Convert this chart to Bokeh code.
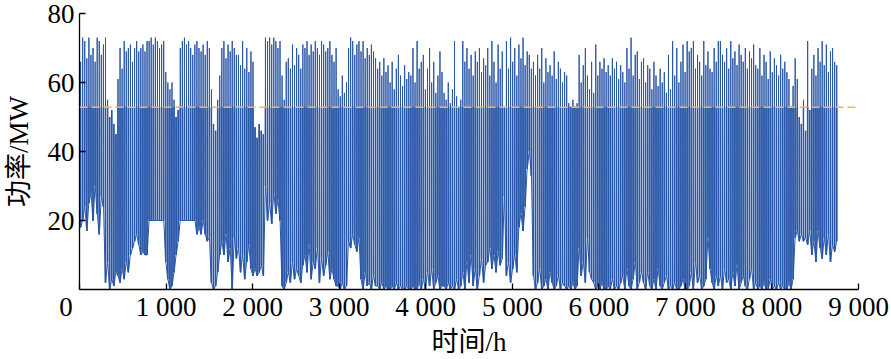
from bokeh.plotting import figure
from bokeh.models import Range1d, FixedTicker, Span
from bokeh.embed import file_html
from bokeh.resources import INLINE

# Daily peak and trough power (MW), day by day (365 days)
PEAK = [
    66, 73, 72, 67,
    73, 68, 70, 66, 73, 72, 68, 71,
    73, 55,
    50, 52, 48, 45,
    61, 70, 64, 72, 69, 70, 71, 66, 70, 72, 69,
    70, 71, 69, 72,
    72, 73, 71, 73, 72, 70, 71, 72,
    63, 60, 58, 60, 55,
    50, 52,
    70, 72, 73, 71, 72, 70, 68, 71, 72, 70, 69, 71,
    68, 72, 70,
    58, 48, 46, 55, 62,
    70, 72, 67, 71, 69, 72, 70, 68,
    68, 65, 72, 64, 70, 63, 69, 66,
    47, 44, 48, 46, 45,
    73, 72, 73, 71, 73, 72, 70, 72,
    62, 55, 66,
    67, 64, 71, 65, 70, 68, 64, 71,
    70, 72, 68, 71, 69, 72, 70, 68, 72, 71, 69, 70, 72, 68,
    66, 70,
    58, 56, 62, 57, 60,
    70, 73, 72, 68, 71, 72,
    69, 72, 67, 70, 68, 71, 69, 67,
    64, 66, 62, 67, 63, 65,
    60, 66, 58, 64, 68, 62, 59, 65, 61, 63,
    62, 70, 60, 72, 64, 66,
    68, 58, 64, 70, 60, 66, 57, 62, 69, 63,
    57, 55, 60, 54, 58, 72, 56, 53, 55,
    72, 66, 70, 64, 68, 62, 69, 66, 70, 63, 67, 65,
    70, 62, 72, 66, 60, 71, 64, 69,
    53,
    72, 64, 73, 66, 70, 62, 71, 67, 73, 65, 69, 68, 64,
    66, 62, 68, 64, 70, 60, 67, 63, 65, 62, 69, 61, 66, 64, 60, 63, 62,
    54, 53, 55, 53, 54,
    68, 60, 65, 70, 62, 58, 66,
    57,
    71, 62, 66, 64, 67, 63, 65, 62, 67, 64, 66, 61, 65,
    63, 60, 70, 64, 73, 62, 68, 69, 61, 66,
    67, 60, 65, 64, 58, 66, 62, 59, 64, 60, 63, 57,
    68, 58, 72, 62, 70, 60, 66, 71, 63, 72, 69,
    70, 72, 64, 68, 66, 62, 72, 65, 69, 64, 63, 70, 66, 72,
    72, 68, 66, 70, 64, 72, 67, 69, 65, 71, 68, 66, 70, 64, 69, 67, 71, 65,
    64, 70, 62, 68, 66, 61, 69, 63, 67, 65, 62, 68, 64, 66, 63, 61,
    53, 59, 67, 61,
    50, 48, 55, 46, 72, 52,
    64, 68, 62, 70, 66, 72, 65, 71, 63, 69, 70, 66, 65,
]
TROUGH = [
    18, 20, 24, 17,
    25, 28, 20, 30, 22, 16, 27, 24,
    2, 8,
    0, 3, 1, 5,
    4, 2, 6, 3, 8, 5, 10, 12, 14, 16, 13,
    10, 11, 10, 10,
    20, 20, 20, 20, 20, 20, 20, 20,
    8, 3, 0, 1, 5,
    10, 14,
    20, 20, 20, 20, 20, 20, 20, 20, 16, 18, 16, 20,
    16, 14, 15,
    2, 0, 1, 5, 10,
    14, 10, 16, 8, 12, 0, 15, 9,
    12, 5, 10, 3, 8, 13, 6, 4,
    6, 4, 5, 7, 4,
    30, 20, 25, 19, 28, 22, 26, 20,
    1, 0, 2,
    5, 2, 8, 3, 6, 4, 2, 7,
    10, 5, 13, 3, 8, 6, 12, 2, 9, 4, 7, 11, 3, 6,
    3, 1,
    1, 0, 2, 0, 1,
    14, 12, 16, 13, 11, 15,
    3, 0, 5, 1, 2, 0, 4, 1,
    1, 0, 2, 0, 1, 0,
    0, 1, 0, 2, 0, 1, 0, 0, 1, 0,
    0, 1, 0, 0, 2, 0,
    3, 0, 5, 1, 6, 0, 2, 4, 0, 1,
    1, 0, 2, 0, 1, 0, 3, 0, 1,
    5, 0, 8, 2, 10, 1, 6, 0, 4, 9, 2, 7,
    8, 12, 6, 10, 5, 11, 7, 9,
    27,
    4, 8, 2, 6, 10, 5, 18, 22, 17, 24, 35, 40, 33,
    4, 0, 2, 6, 0, 1, 3, 0, 5, 2, 0, 1, 4, 0, 2, 1, 0,
    1, 0, 2, 0, 1,
    12, 4, 8, 2, 15, 5, 3,
    2,
    0, 1, 0, 2, 0, 0, 1, 0, 3, 0, 1, 0, 2,
    4, 0, 6, 1, 0, 3, 8, 0, 2, 5,
    2, 0, 5, 1, 0, 3, 0, 6, 1, 0, 2, 4,
    0, 1, 0, 2, 0, 0, 1, 3, 0, 0, 1,
    5, 0, 8, 2, 4, 0, 1, 3, 15, 6, 2, 0, 4, 1,
    4, 0, 6, 2, 3, 0, 5, 1, 7, 0, 2, 4, 1, 0, 3, 6, 0, 2,
    0, 1, 0, 2, 0, 0, 3, 0, 1, 0, 2, 0, 1, 0, 0, 2,
    0, 3, 15, 17,
    14, 16, 14, 15, 13, 17,
    10, 14, 8, 17, 12, 9, 15, 10, 16, 8, 13, 11, 14,
]
THRESHOLD = 52.8  # MW, dashed reference line
X_TICKS = [0, 1000, 2000, 3000, 4000, 5000, 6000, 7000, 8000, 9000]
X_TICK_LABELS = ["0\u2003", "1 000", "2 000", "3 000", "4 000", "5 000",
                 "6 000", "7 000", "8 000", "9 000"]
Y_TICKS = [20, 40, 60, 80]
X_LABEL = "时间/h"
Y_LABEL = "功率/MW"

SERIF = "'Liberation Serif', 'Noto Sans CJK SC'"
BLUE = "#2A57A8"

# hourly positions of each day's low / high excursion
hours, vals = [], []
for d, (lo, hi) in enumerate(zip(TROUGH, PEAK)):
    hours += [24 * d + 11, 24 * d + 12.5, 24 * d + 14]
    vals += [lo, hi, lo]
day_mid = [24 * d + 12 for d in range(len(PEAK))]
band_top = [min(hi, THRESHOLD) for hi in PEAK]

p = figure(width=891, height=359, output_backend="svg", toolbar_location=None,
           x_range=Range1d(0, 9000), y_range=Range1d(0, 80),
           min_border_left=75, min_border_right=33, min_border_top=13,
           min_border_bottom=64)
p.outline_line_color = None
p.xgrid.visible = False
p.ygrid.visible = False

p.vbar(x=day_mid, width=17, bottom=TROUGH, top=band_top,
       fill_color=BLUE, line_color=None)
p.line(hours, vals, line_color=BLUE, line_width=1)

p.add_layout(Span(location=THRESHOLD, dimension="width", line_color="#F0B265",
                  line_width=1.5, line_dash="8 4"))

for ax in (p.xaxis[0], p.yaxis[0]):
    ax.axis_line_color = "black"
    ax.axis_line_width = 1.3
    ax.major_tick_line_color = "black"
    ax.major_tick_line_width = 1.3
    ax.major_tick_in = 6
    ax.major_tick_out = 0
    ax.minor_tick_line_color = None
    ax.major_label_text_font = SERIF
    ax.major_label_text_font_size = "27px"
    ax.major_label_text_color = "black"
    ax.axis_label_text_font = SERIF
    ax.axis_label_text_font_size = "27px"
    ax.axis_label_text_font_style = "normal"
    ax.axis_label_text_color = "black"

p.xaxis.ticker = FixedTicker(ticks=X_TICKS)
p.xaxis.major_label_overrides = {t: s for t, s in zip(X_TICKS, X_TICK_LABELS)}
p.xaxis.major_label_standoff = 2
p.xaxis.axis_label = X_LABEL
p.xaxis.axis_label_standoff = 2
p.yaxis.ticker = FixedTicker(ticks=Y_TICKS)
p.yaxis.major_label_standoff = 5
p.yaxis.axis_label = Y_LABEL
p.yaxis.axis_label_standoff = 11

open("out.html", "w").write(file_html(p, INLINE))
